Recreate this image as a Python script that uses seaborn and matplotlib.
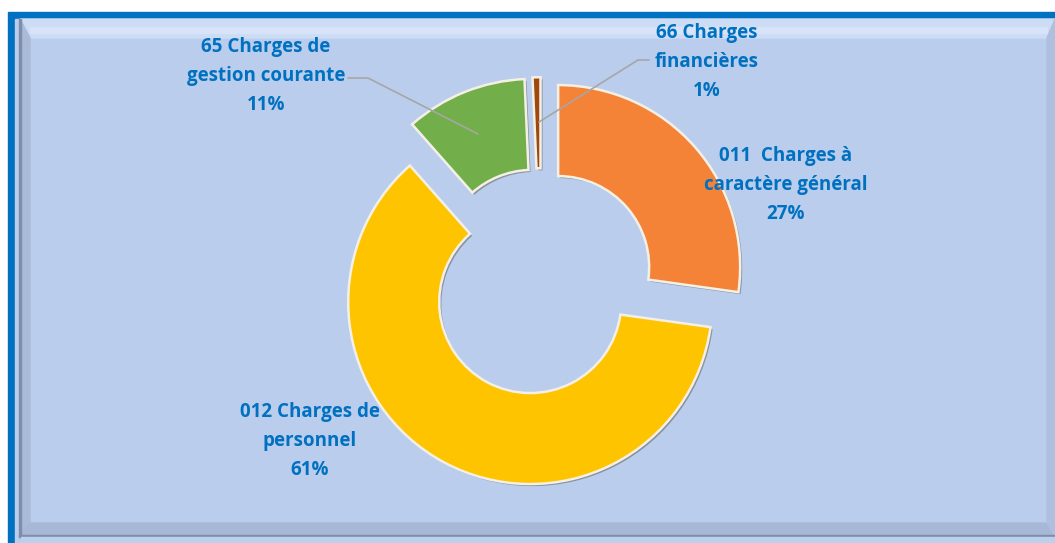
import matplotlib
matplotlib.use("Agg")
import matplotlib.pyplot as plt
import matplotlib.patheffects as pe
from matplotlib.patches import Polygon, Rectangle
import seaborn as sns

# data
categories = ["011  Charges à\ncaractère général", "012 Charges de\npersonnel",
              "65 Charges de\ngestion courante", "66 Charges\nfinancières"]
shares = [27.2, 61.3, 10.8, 0.7]
colors = sns.color_palette(["#F58337", "#FFC400", "#72AF4A", "#9E480E"])

# label placement (pixels, y down)
label_pos = [(786, 185), (310, 441), (266, 76), (707, 62)]

W, H = 1055, 543
sns.set_style("white")
plt.rcParams['font.family'] = ['Open Sans', 'DejaVu Sans']

fig = plt.figure(figsize=(W / 100, H / 100), dpi=100)
fig.patch.set_facecolor("white")

# background frame
bg = fig.add_axes([0, 0, 1, 1], zorder=0)
bg.set_xlim(0, W)
bg.set_ylim(H, 0)
bg.axis("off")
bg.add_patch(Rectangle((8, 12), W, H, color="#0070C0"))
bg.add_patch(Rectangle((15, 19), W, H, color="#BACDEC"))
bg.add_patch(Polygon([(20, 19), (W, 19), (1047, 38), (30, 38)], color="#CCDCF4"))
bg.add_patch(Rectangle((30, 27), 1017, 6, color="#D6E3F8"))
bg.add_patch(Polygon([(20, 19), (30, 38), (30, 523), (20, 536)], color="#A9BBD8"))
bg.add_patch(Polygon([(20, 536), (30, 523), (1047, 523), (W, 536)], color="#A6B8D6"))
bg.add_patch(Polygon([(1047, 38), (W, 19), (W, 536), (1047, 523)], color="#AEC0DE"))
bg.add_patch(Rectangle((19, 19), 2, 518, color="#7E8EA8"))
bg.add_patch(Rectangle((19, 535), W, 2, color="#7E8EA8"))
bg.add_patch(Rectangle((21, 537), W, 6, color="#BCCFEC"))

# donut
cx, cy, R = 541, 282, 182
half = 250
ax = fig.add_axes([(cx - half) / W, (H - cy - half) / H, 2 * half / W, 2 * half / H], zorder=1)
ax.patch.set_alpha(0)
wedges, _ = ax.pie(shares, colors=colors, startangle=90, counterclock=False,
                   explode=[0.125] * len(shares), radius=1,
                   wedgeprops=dict(width=0.5, edgecolor="#F4F0E6", linewidth=1.8))
for w in wedges:
    w.set_path_effects([pe.SimplePatchShadow(offset=(1.5, -1.5), shadow_rgbFace="#6b6b6b", alpha=0.6),
                        pe.Normal()])
ax.set_xlim(-half / R, half / R)
ax.set_ylim(-half / R, half / R)
ax.axis("off")

# labels and leader lines
ov = fig.add_axes([0, 0, 1, 1], zorder=2)
ov.set_xlim(0, W)
ov.set_ylim(H, 0)
ov.axis("off")
ov.patch.set_alpha(0)
ov.plot([348, 368, 478], [78, 78, 134], color="#A6A6A6", lw=1.2)
ov.plot([649, 638, 539], [60, 60, 122], color="#A6A6A6", lw=1.2)
for (lx, ly), name, val in zip(label_pos, categories, shares):
    ov.text(lx, ly, f"{name}\n{round(val)}%", ha="center", va="center", color="#0070C0",
            fontsize=13.5, fontweight="bold", linespacing=1.58)

fig.savefig("out.png", dpi=100)
